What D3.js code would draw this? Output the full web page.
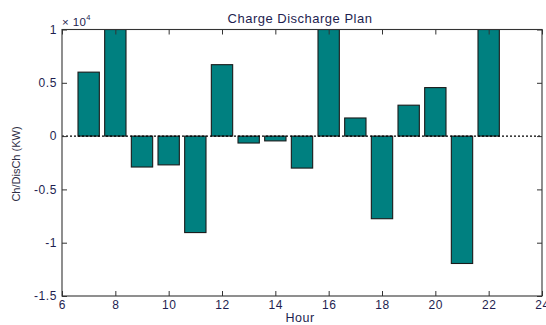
<!DOCTYPE html>
<html>
<head>
<meta charset="utf-8">
<script src="https://cdn.jsdelivr.net/npm/d3@7"></script>
<style>
  html, body { margin: 0; padding: 0; background: #fff; }
  svg { display: block; font-family: "Liberation Sans", Arial, sans-serif; }
</style>
</head>
<body>
<svg id="chart" width="546" height="325"></svg>
<script>
// Hourly charge (+) / discharge (-) schedule in kW
const hours = [7, 8, 9, 10, 11, 12, 13, 14, 15, 16, 17, 18, 19, 20, 21, 22];
const power = [6000, 10000, -2900, -2700, -9050, 6700, -650, -450, -3000, 10000, 1700, -7750, 2900, 4550, -11950, 10000];
const xTicks = [6, 8, 10, 12, 14, 16, 18, 20, 22, 24];
const yTicks = [-1.5, -1, -0.5, 0, 0.5, 1];
const yFactor = 1e4;

const svg = d3.select("#chart");
const m = { left: 62, right: 4, top: 29.5, bottom: 29 };
const W = 546, H = 325;
const textColor = "#1e1e50";

const x = d3.scaleLinear().domain([6, 24]).range([m.left, W - m.right]);
const y = d3.scaleLinear().domain([-1.5, 1]).range([H - m.bottom, m.top]);

svg.append("defs").append("clipPath").attr("id", "plotClip")
  .append("rect")
  .attr("x", x(6)).attr("y", y(1))
  .attr("width", x(24) - x(6)).attr("height", y(-1.5) - y(1));

// bars, width 0.8 hour
const bw = 0.8;
svg.append("g").attr("clip-path", "url(#plotClip)")
  .selectAll("rect").data(hours.map((h, i) => ({ h, v: power[i] / yFactor })))
  .join("rect")
  .attr("x", d => x(d.h - bw / 2))
  .attr("width", d => x(d.h + bw / 2) - x(d.h - bw / 2))
  .attr("y", d => y(Math.max(0, d.v)))
  .attr("height", d => Math.abs(y(d.v) - y(0)))
  .attr("fill", "#008080")
  .attr("stroke", "#1a1a1a")
  .attr("stroke-width", 1.1);

// dotted baseline at zero
svg.append("line")
  .attr("x1", x(6)).attr("x2", x(24))
  .attr("y1", y(0)).attr("y2", y(0))
  .attr("stroke", "#000").attr("stroke-width", 1.1)
  .attr("stroke-dasharray", "2,2");

// axes with inward ticks, mirrored on top/right
const tickLen = 5;
const axisStyle = g => {
  g.select(".domain").remove();
  g.selectAll(".tick line").attr("stroke", "#333");
  g.selectAll(".tick text").attr("fill", textColor).attr("font-size", 12)
    .attr("letter-spacing", 0.6);
};

svg.append("g").attr("transform", `translate(0,${y(-1.5)})`)
  .call(d3.axisBottom(x).tickValues(xTicks).tickSize(-tickLen).tickPadding(4.5).tickFormat(d3.format("d")))
  .call(axisStyle);
svg.append("g").attr("transform", `translate(0,${y(1)})`)
  .call(d3.axisTop(x).tickValues(xTicks).tickSize(-tickLen).tickFormat(""))
  .call(axisStyle);
svg.append("g").attr("transform", `translate(${x(6)},0)`)
  .call(d3.axisLeft(y).tickValues(yTicks).tickSize(-tickLen).tickPadding(5).tickFormat(d => String(d)))
  .call(axisStyle);
svg.append("g").attr("transform", `translate(${x(24)},0)`)
  .call(d3.axisRight(y).tickValues(yTicks).tickSize(-tickLen).tickFormat(""))
  .call(axisStyle);

// plot box
svg.append("rect")
  .attr("x", x(6)).attr("y", y(1))
  .attr("width", x(24) - x(6)).attr("height", y(-1.5) - y(1))
  .attr("fill", "none").attr("stroke", "#333").attr("stroke-width", 1.1);

// exponent label
const ex = svg.append("text").attr("x", x(6)).attr("y", y(1) - 4)
  .attr("fill", textColor).attr("font-size", 11.5).attr("letter-spacing", 0.4);
ex.append("tspan").text("× 10");
ex.append("tspan").attr("dy", -6).attr("font-size", 7.5).text("4");

// title and axis labels
svg.append("text").attr("x", 300).attr("y", 23.3)
  .attr("text-anchor", "middle").attr("fill", textColor).attr("font-size", 13)
  .attr("letter-spacing", 0.5)
  .text("Charge Discharge Plan");
svg.append("text").attr("x", 300).attr("y", 321.5)
  .attr("text-anchor", "middle").attr("fill", textColor).attr("font-size", 12.5)
  .attr("letter-spacing", 0.5)
  .text("Hour");
svg.append("text")
  .attr("transform", `translate(20,164) rotate(-90)`)
  .attr("text-anchor", "middle").attr("fill", "#2e2e44").attr("font-size", 11)
  .text("Ch/DisCh (KW)");
</script>
</body>
</html>
